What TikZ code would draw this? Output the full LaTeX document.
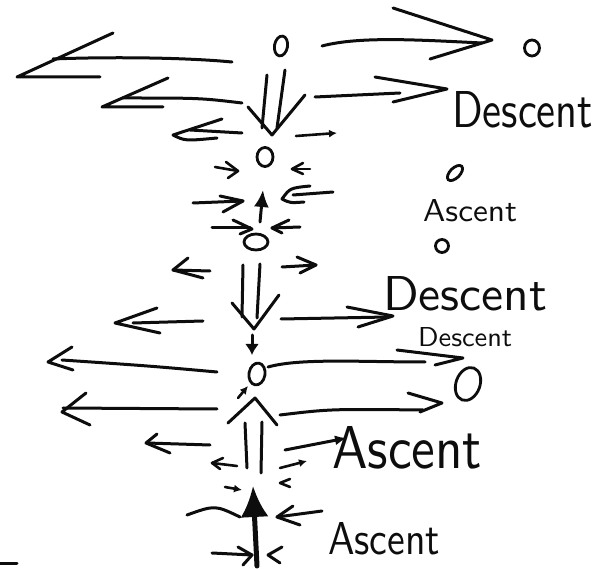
\documentclass[tikz,border=0pt]{standalone}
\usepackage{graphicx}
\usetikzlibrary{arrows.meta,shapes.geometric}
\colorlet{ink}{black!95}
\tikzset{
  pen/.style={draw=ink, line width=3pt, line cap=round, line join=round},
  finepen/.style={pen, line width=2.6pt},
  smalldart/.style={finepen, -{Latex[length=8pt,width=8pt]}},
  blob/.style={ellipse, draw=ink, line width=2.8pt, inner sep=0pt},
  scrawl/.style={inner sep=0pt, anchor=base west, text=ink, font=\sffamily}
}
\newcommand{\Scrawl}[3]{\resizebox{#1pt}{#2pt}{#3}}

\begin{document}
\begin{tikzpicture}[x=1pt,y=-1pt]
  \useasboundingbox (0,0) rectangle (598,569);

  % top level
  \node[blob, minimum width=13pt, minimum height=20pt, rotate=-10] (topdot) at (281,46) {};
  \node[blob, minimum width=15pt, minimum height=16pt] (fardotA) at (532,48) {};
  \draw[pen] (322,46) .. controls (360,36) and (420,40) .. (482,43);
  \draw[pen] (393,8) -- (492,40) -- (430,59);
  \draw[pen] (232,62) .. controls (180,57) and (100,57) .. (53,59);
  \draw[pen] (113,33) -- (17,77) -- (100,77);
  \draw[pen] (242,103) .. controls (200,98) .. (123,98);
  \draw[pen] (168,78) -- (102,107) -- (163,107);
  \draw[pen] (315,97) -- (400,93);
  \draw[pen] (375,77) -- (447,89) -- (393,102);
  \draw[pen] (242,133) -- (190,130);
  \draw[pen] (222,119) -- (173,135) .. controls (185,141) .. (217,138);
  \draw[pen] (267,75) -- (262,128);
  \draw[pen] (285,70) -- (277,128);
  \draw[pen] (248,107) -- (272,135) -- (305,95);
  \draw[smalldart] (296,136) -- (337,133);
  \node[scrawl] (descentA) at (452,128) {\Scrawl{141}{36}{Descent}};

  % second level
  \node[blob, minimum width=16pt, minimum height=19pt] (midA) at (265,157) {};
  \node[blob, minimum width=19pt, minimum height=10pt, rotate=45] (fardotB) at (455,173) {};
  \draw[finepen] (215,167) -- (238,171);
  \draw[finepen] (226,162) -- (238,171) -- (228,178);
  \draw[finepen] (310,169) -- (292,169);
  \draw[finepen] (303,163) -- (292,169) -- (303,174);
  \draw[pen, -{Latex[length=17pt,width=15pt]}] (260,222) -- (263,190);
  \draw[pen] (193,203) -- (243,201);
  \draw[pen] (220,196) -- (243,201) -- (223,212);
  \draw[pen] (310,186) .. controls (290,188) .. (282,199) .. controls (290,203) .. (304,202);
  \draw[pen] (293,195) -- (333,192);
  \draw[pen] (212,228) -- (250,228);
  \draw[pen] (233,220) -- (252,229) -- (240,234);
  \draw[pen] (300,227) -- (272,228);
  \draw[pen] (289,220) -- (272,228) -- (282,233);
  \node[blob, minimum width=24pt, minimum height=16pt] (midB) at (256,242) {};
  \node[scrawl] (ascentA) at (423,222) {\Scrawl{94}{22}{Ascent}};
  \node[blob, minimum width=13pt, minimum height=13pt] (fardotC) at (442,246) {};
  \draw[pen] (210,271) -- (173,270);
  \draw[pen] (188,258) -- (173,270) -- (203,278);
  \draw[pen] (282,267) -- (316,265);
  \draw[pen] (297,257) -- (316,265) -- (300,273);

  % second descent
  \draw[pen] (243,265) -- (242,317);
  \draw[pen] (260,264) -- (257,318);
  \draw[pen] (232,303) -- (254,329) -- (279,295);
  \draw[pen, -{Latex[length=11pt,width=14pt]}] (252,335) -- (252,355);
  \draw[pen] (203,321) -- (133,323);
  \draw[pen] (157,308) -- (115,323) -- (160,333);
  \draw[pen] (281,319) -- (388,317);
  \draw[pen] (347,307) -- (393,316) -- (358,327);
  \node[scrawl] (descentB) at (383,311) {\Scrawl{164}{34}{Descent}};
  \node[scrawl] (descentC) at (418,347) {\Scrawl{94}{19}{Descent}};

  % third level
  \node[blob, minimum width=16pt, minimum height=22pt, rotate=-10] (lowA) at (257,374) {};
  \draw[smalldart] (238,398) -- (248,386);
  \draw[pen] (217,372) .. controls (150,366) .. (62,360);
  \draw[pen] (72,347) -- (48,362) -- (73,370);
  \draw[pen] (268,367) .. controls (300,358) and (360,362) .. (425,362);
  \draw[pen] (397,350) -- (463,358) -- (435,365);
  \node[blob, minimum width=24pt, minimum height=34pt, rotate=-20] (fardotD) at (468,384) {};
  \draw[pen] (217,409) -- (63,408);
  \draw[pen] (86,393) -- (62,412) -- (90,425);
  \draw[pen] (280,415) .. controls (330,409) .. (423,410);
  \draw[pen] (408,393) -- (442,403) -- (420,412);

  % ascent
  \draw[pen] (228,423) -- (255,398) -- (277,425);
  \draw[pen] (245,423) -- (247,468);
  \draw[pen] (262,422) -- (261,473);
  \draw[pen] (210,445) -- (147,443);
  \draw[pen] (157,434) -- (146,443) -- (170,453);
  \draw[pen, -{Latex[length=12pt,width=10pt]}] (285,450) -- (347,438);
  \draw[finepen] (237,466) -- (212,463);
  \draw[finepen] (223,458) -- (212,463) -- (220,469);
  \draw[smalldart] (280,468) -- (307,461);
  \node[scrawl] (ascentB) at (332,469) {\Scrawl{150}{42}{Ascent}};
  \draw[finepen] (290,479) -- (280,483) -- (290,487);
  \draw[smalldart] (225,487) -- (242,490);
  \draw[pen, line width=5pt, -{Latex[length=31pt,width=28pt]}] (257,566) -- (253,486);
  \draw[pen] (187,515) .. controls (215,505) .. (240,517);
  \draw[pen] (322,511) -- (277,517);
  \draw[pen] (293,506) -- (277,517) -- (300,525);
  \draw[pen] (212,553) -- (252,555);
  \draw[pen] (238,547) -- (252,555) -- (243,565);
  \draw[pen] (282,547) -- (268,555) -- (280,563);
  \node[scrawl] (ascentC) at (328,555) {\Scrawl{112}{32}{Ascent}};
  \draw[pen] (0,564) -- (17,564);
\end{tikzpicture}
\end{document}
